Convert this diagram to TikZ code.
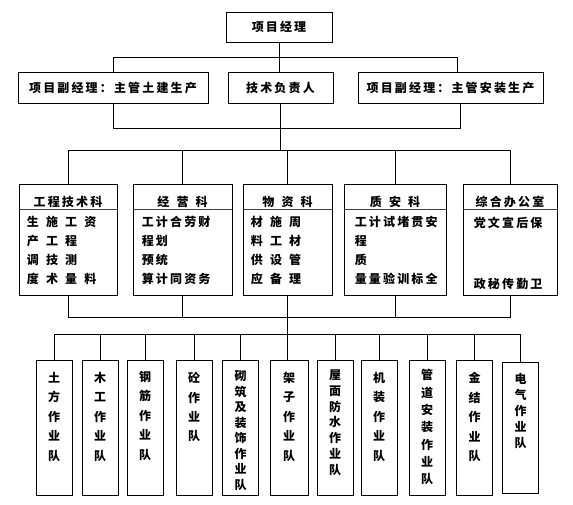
\documentclass[tikz,border=0pt]{standalone}
\usepackage{fontspec}
\newfontfamily\cjk[LetterSpace=18]{Noto Sans CJK SC}
\usetikzlibrary{positioning, calc}

\newcommand{\px}{0.75pt}
\newcommand{\cgap}{\hspace{0.6em}}

\tikzset{
  link/.style={line width=0.7pt},
  mainbox/.style={draw, line width=0.7pt, inner sep=0pt, font=\cjk\bfseries\fontsize{9}{10}\selectfont},
  deptbox/.style={draw, line width=0.7pt, minimum height=111*\px},
  deptsep/.style={line width=1pt, black!75},
  depttxt/.style={inner sep=0pt, font=\cjk\bfseries\fontsize{9}{10}\selectfont},
  deptbody/.style={inner sep=0pt, align=left, anchor=north west, font=\cjk\bfseries\fontsize{9}{14.25}\selectfont},
  teambox/.style={draw, line width=0.7pt, minimum width=36*\px, minimum height=135*\px, anchor=north},
  teamtxt/.style={inner sep=0pt, align=center, font=\cjk\bfseries\fontsize{9}{14.6}\selectfont}
}

\begin{document}
\begin{tikzpicture}[x=\px, y=-\px]
\fill[white] (0,0) rectangle (573,505);
\useasboundingbox (0,0) rectangle (573,505);

% Manager and deputies
\node[mainbox, minimum width=106*\px, minimum height=30*\px] (pm) at (279,27) {项目经理};
\node[mainbox, minimum width=190*\px, minimum height=31*\px] (dpL) at (113,87.5) {项目副经理：主管土建生产};
\node[mainbox, minimum width=105*\px, minimum height=31*\px] (tech) at (280.5,87.5) {技术负责人};
\node[mainbox, minimum width=185*\px, minimum height=31*\px] (dpR) at (450.5,87.5) {项目副经理：主管安装生产};

% Departments
\node[deptbox, minimum width=98*\px] (d1) at (68,239.5) {};
\node[deptbox, minimum width=99*\px] (d2) at (182.5,239.5) {};
\node[deptbox, minimum width=89*\px] (d3) at (287.5,239.5) {};
\node[deptbox, minimum width=102*\px] (d4) at (395,239.5) {};
\node[deptbox, minimum width=94*\px] (d5) at (510,239.5) {};

\node[depttxt] (h1) at ($(d1.north)+(0,18)$) {工程技术科};
\node[depttxt] (h2) at ($(d2.north)+(0,18)$) {经\cgap 营\cgap 科};
\node[depttxt] (h3) at ($(d3.north)+(0,18)$) {物\cgap 资\cgap 科};
\node[depttxt] (h4) at ($(d4.north)+(0,18)$) {质\cgap 安\cgap 科};
\node[depttxt] (h5) at ($(d5.north)+(0,18)$) {综合办公室};

\foreach \d in {d1,d2,d3,d4,d5}
  \draw[deptsep] ($(\d.north west)+(0,26)$) -- ($(\d.north east)+(0,26)$);

\node[deptbody] (b1) at ($(d1.north west)+(8,32)$) {生\cgap 施\cgap 工\cgap 资\\产\cgap 工\cgap 程\\调\cgap 技\cgap 测\\度\cgap 术\cgap 量\cgap 料};
\node[deptbody] (b2) at ($(d2.north west)+(9,32)$) {工计合劳财\\程划\\预统\\算计同资务};
\node[deptbody] (b3) at ($(d3.north west)+(8,32)$) {材\cgap 施\cgap 周\\料\cgap 工\cgap 材\\供\cgap 设\cgap 管\\应\cgap 备\cgap 理};
\node[deptbody] (b4) at ($(d4.north west)+(11,32)$) {工计试堵贯安\\程\\质\\量量验训标全};
\node[deptbody] (b5) at ($(d5.north west)+(11,33)$) {党文宣后保\\[32pt]政秘传勤卫};

% Work teams
\node[teambox] (t1) at (54,360) {};
\node[teambox] (t2) at (100,360) {};
\node[teambox] (t3) at (145,360) {};
\node[teambox] (t4) at (194,360) {};
\node[teambox] (t5) at (240.5,360) {};
\node[teambox, minimum width=38*\px] (t6) at (289,360) {};
\node[teambox] (t7) at (335,360) {};
\node[teambox] (t8) at (379,360) {};
\node[teambox] (t9) at (427,360) {};
\node[teambox] (t10) at (474.5,360) {};
\node[teambox, minimum height=131*\px] (t11) at (520.5,362) {};

\node[teamtxt, below=9pt of t1.north] (n1) {土\\方\\作\\业\\队};
\node[teamtxt, below=9pt of t2.north] (n2) {木\\工\\作\\业\\队};
\node[teamtxt, below=8pt of t3.north] (n3) {钢\\筋\\作\\业\\队};
\node[teamtxt, below=9pt of t4.north] (n4) {砼\\作\\业\\队};
\node[teamtxt, below=8pt of t5.north, font=\cjk\bfseries\fontsize{9}{11.6}\selectfont] (n5) {砌\\筑\\及\\装\\饰\\作\\业\\队};
\node[teamtxt, below=9pt of t6.north] (n6) {架\\子\\作\\业\\队};
\node[teamtxt, below=7pt of t7.north, font=\cjk\bfseries\fontsize{9}{11.9}\selectfont] (n7) {屋\\面\\防\\水\\作\\业\\队};
\node[teamtxt, below=9pt of t8.north] (n8) {机\\装\\作\\业\\队};
\node[teamtxt, below=7pt of t9.north, font=\cjk\bfseries\fontsize{9}{13}\selectfont] (n9) {管\\道\\安\\装\\作\\业\\队};
\node[teamtxt, below=9pt of t10.north] (n10) {金\\结\\作\\业\\队};
\node[teamtxt, below=8pt of t11.north, font=\cjk\bfseries\fontsize{9}{12}\selectfont] (n11) {电\\气\\作\\业\\队};

% Buses
\coordinate (busA) at (0,57);
\coordinate (busB) at (0,128);
\coordinate (busC) at (0,150);
\coordinate (busD) at (0,317);
\coordinate (busE) at (0,334);
\coordinate (dpRa) at ($(dpR.north)+(7,0)$);
\coordinate (dpRb) at ($(dpR.south)+(10,0)$);

\draw[link] (pm.south) -- (pm.south |- tech.north);
\draw[link] (dpL.north) -- (dpL.north |- busA) -- (dpRa |- busA) -- (dpRa);
\draw[link] (dpL.south) -- (dpL.south |- busB) -- (dpRb |- busB) -- (dpRb);
\draw[link] (tech.south) -- (tech.south |- busC);

\draw[link] (d1.north) -- (d1.north |- busC) -- (d5.north |- busC) -- (d5.north);
\foreach \d in {d2,d3,d4}
  \draw[link] (\d.north) -- (\d.north |- busC);

\draw[link] (d1.south) -- (d1.south |- busD) -- (d5.south |- busD) -- (d5.south);
\foreach \d in {d2,d4}
  \draw[link] (\d.south) -- (\d.south |- busD);
\draw[link] (d3.south) -- (d3.south |- t6.north);

\draw[link] (t1.north) -- (t1.north |- busE) -- (t11.north |- busE) -- (t11.north);
\foreach \t in {t2,t3,t4,t5,t7,t8,t9,t10}
  \draw[link] (\t.north) -- (\t.north |- busE);

\end{tikzpicture}
\end{document}
